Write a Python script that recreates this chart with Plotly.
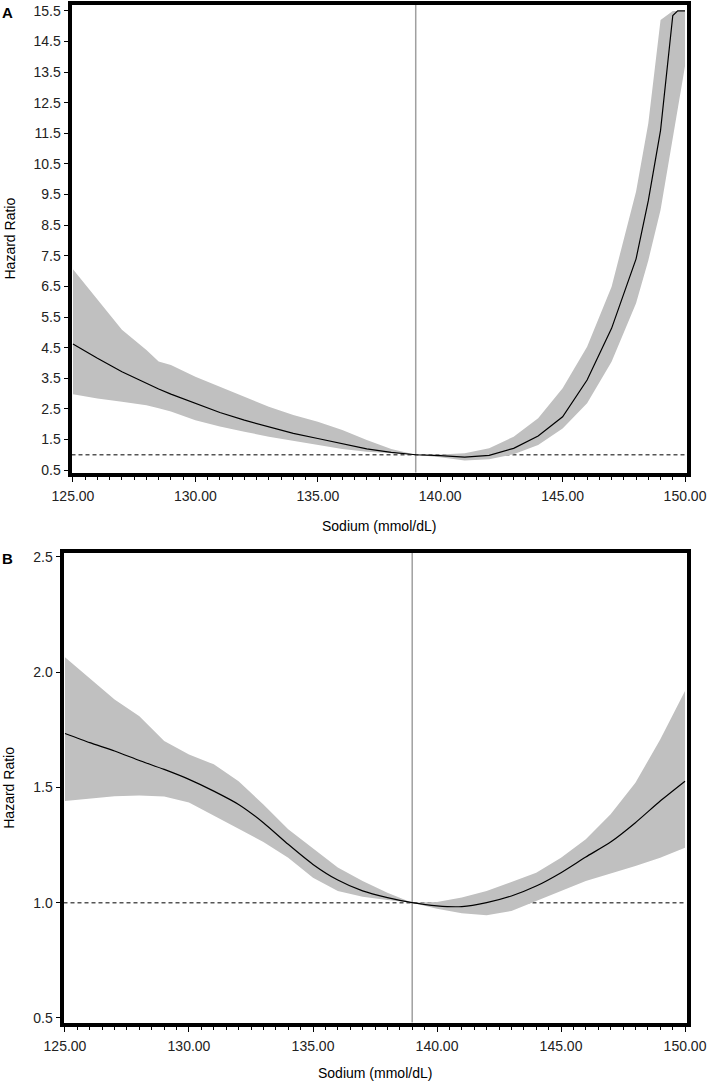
import plotly.graph_objects as go

# ---------------- Panel A data ----------------
sodium_a = [125, 126, 127, 128, 128.5, 129, 130, 131, 132, 133, 134, 135, 136, 137, 138, 139,
            140, 141, 142, 143, 144, 145, 146, 147, 148, 148.5, 149, 149.5, 149.7, 150]
hr_a = [4.62, 4.15, 3.71, 3.33, 3.15, 2.98, 2.68, 2.38, 2.13, 1.92, 1.70, 1.53, 1.35, 1.19, 1.08, 1.00,
        0.97, 0.92, 0.98, 1.21, 1.61, 2.24, 3.44, 5.13, 7.40, 9.30, 11.60, 15.35, 15.5, 15.5]
lower_a = [2.98, 2.84, 2.73, 2.62, 2.52, 2.41, 2.13, 1.92, 1.75, 1.59, 1.46, 1.32, 1.19, 1.10, 1.04, 1.00,
           0.92, 0.81, 0.85, 1.02, 1.32, 1.86, 2.68, 4.04, 5.95, 7.35, 9.00, 11.40, 12.30, 13.70]
upper_a = [7.06, 6.06, 5.08, 4.42, 4.05, 3.93, 3.55, 3.22, 2.90, 2.57, 2.30, 2.08, 1.81, 1.48, 1.19, 1.00,
           1.01, 1.05, 1.21, 1.59, 2.19, 3.17, 4.53, 6.49, 9.60, 11.83, 15.20, 15.5, 15.5, 15.5]

# ---------------- Panel B data ----------------
sodium_b = [125, 126, 127, 128, 129, 130, 131, 132, 133, 134, 135, 136, 137, 138, 139,
            140, 141, 142, 143, 144, 145, 146, 147, 148, 149, 150]
hr_b = [1.734, 1.694, 1.658, 1.617, 1.578, 1.535, 1.484, 1.426, 1.347, 1.253, 1.166, 1.098, 1.051, 1.022, 1.000,
        0.986, 0.983, 1.000, 1.029, 1.072, 1.130, 1.198, 1.263, 1.347, 1.441, 1.527]
lower_b = [1.441, 1.451, 1.462, 1.465, 1.460, 1.434, 1.379, 1.321, 1.263, 1.195, 1.108, 1.051, 1.026, 1.012, 1.000,
           0.974, 0.954, 0.945, 0.964, 1.007, 1.051, 1.094, 1.127, 1.159, 1.195, 1.238]
upper_b = [2.065, 1.975, 1.881, 1.809, 1.701, 1.643, 1.600, 1.527, 1.426, 1.318, 1.234, 1.152, 1.094, 1.043, 1.000,
           1.003, 1.022, 1.051, 1.090, 1.130, 1.195, 1.275, 1.383, 1.520, 1.708, 1.918]

ticks_a = [0.5 + i for i in range(16)]
ticks_b = [0.5, 1.0, 1.5, 2.0, 2.5]
xticks = [125, 130, 135, 140, 145, 150]
reference_x = 139
reference_hr = 1.0

W, H = 709, 1083
BAND = "#c0c0c0"
FONT = "Liberation Sans, Arial, sans-serif"

fig = go.Figure()

def add_panel(x, hr, lo, up, xa, ya, shape):
    fig.add_trace(go.Scatter(x=x + x[::-1], y=up + lo[::-1], fill="toself", fillcolor=BAND,
                             line=dict(width=0, color=BAND), mode="lines", hoverinfo="skip",
                             showlegend=False, xaxis=xa, yaxis=ya))
    fig.add_trace(go.Scatter(x=x, y=hr, mode="lines",
                             line=dict(color="black", width=1.2, shape=shape, smoothing=0.6),
                             showlegend=False, xaxis=xa, yaxis=ya))

add_panel(sodium_a, hr_a, lower_a, upper_a, "x", "y", "linear")
add_panel(sodium_b, hr_b, lower_b, upper_b, "x2", "y2", "spline")

def px_x(p):
    return p / W

def px_y(p):
    return 1 - p / H

# plot-area pixel boxes
A = dict(l=71.5, r=686.5, t=4.5, b=472.5)
B = dict(l=63.5, r=686.5, t=553, b=1022.5)

xaxis_common = dict(
    showline=True, mirror=True, linecolor="black", linewidth=4, automargin=False,
    ticks="outside", ticklen=5, tickwidth=1, tickcolor="black", ticklabelstandoff=3,
    tickvals=xticks, tickformat=".2f", showgrid=False, zeroline=False,
    tickfont=dict(family=FONT, size=14, color="#222"),
    minor=dict(ticks="outside", ticklen=3, tickwidth=1, tickcolor="black", dtick=0.5, tick0=125, showgrid=False),
)
yaxis_common = dict(
    showline=True, mirror=True, linecolor="black", linewidth=4, automargin=False,
    ticks="outside", ticklen=4, tickwidth=1, tickcolor="black",
    showgrid=False, zeroline=False, tickfont=dict(family=FONT, size=14, color="#222"),
)

fig.update_layout(
    width=W, height=H, margin=dict(l=0, r=0, t=0, b=0, autoexpand=False),
    paper_bgcolor="white", plot_bgcolor="white", showlegend=False,
    xaxis=dict(**xaxis_common, domain=[px_x(A["l"]), px_x(A["r"])], range=[124.94, 150.06], anchor="y"),
    yaxis=dict(**yaxis_common, domain=[px_y(A["b"]), px_y(A["t"])], range=[0.42, 15.71],
               tickvals=ticks_a, tickformat=".1f", anchor="x"),
    xaxis2=dict(**xaxis_common, domain=[px_x(B["l"]), px_x(B["r"])], range=[124.94, 150.06], anchor="y2"),
    yaxis2=dict(**yaxis_common, domain=[px_y(B["b"]), px_y(B["t"])], range=[0.48, 2.517],
                tickvals=ticks_b, tickformat=".1f", anchor="x2"),
)

shapes = []
for xr, yr in [("x", "y"), ("x2", "y2")]:
    shapes.append(dict(type="line", xref=xr, yref=yr, x0=124.94, x1=150.06, y0=reference_hr, y1=reference_hr,
                       line=dict(color="#555", width=1.5, dash="4px,3px"), layer="below"))
    shapes.append(dict(type="line", xref=xr, yref=f"{yr} domain", x0=reference_x, x1=reference_x, y0=0, y1=1,
                       line=dict(color="#a0a0a0", width=1.5), layer="below"))
fig.update_layout(shapes=shapes)

ann = []
def text(x, y, s, size=14, bold=False, angle=0):
    ann.append(dict(x=px_x(x), y=px_y(y), xref="paper", yref="paper", text=(f"<b>{s}</b>" if bold else s),
                    showarrow=False, xanchor="center", yanchor="middle", textangle=angle,
                    font=dict(family=FONT, size=size, color="black")))

text(7.5, 12, "A", size=15, bold=True)
text(7.5, 558, "B", size=15, bold=True)
text(9, (A["t"] + A["b"]) / 2, "Hazard Ratio", angle=-90)
text(9, (B["t"] + B["b"]) / 2, "Hazard Ratio", angle=-90)
text((A["l"] + A["r"]) / 2, 526, "Sodium (mmol/dL)")
text((B["l"] + B["r"]) / 2, 1073, "Sodium (mmol/dL)")
fig.update_layout(annotations=ann)

fig.write_html("out.html", config={"displayModeBar": False},
               post_script="document.body.style.margin='0';document.body.style.padding='0';"
                           "document.documentElement.style.overflow='hidden';")
